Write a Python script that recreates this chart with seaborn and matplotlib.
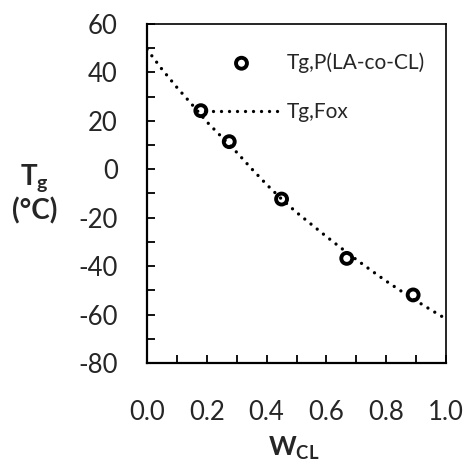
import numpy as np
import pandas as pd
import seaborn as sns
import matplotlib.pyplot as plt
from matplotlib.ticker import MultipleLocator

# measured Tg of P(LA-co-CL)
w_cl = [0.18, 0.275, 0.45, 0.668, 0.89]
tg_exp = [24.2, 11.4, -12.3, -36.8, -51.9]

# Fox prediction
fox_w = [0.00, 0.05, 0.10, 0.15, 0.20, 0.25, 0.30, 0.35, 0.40, 0.45, 0.50,
         0.55, 0.60, 0.65, 0.70, 0.75, 0.80, 0.85, 0.90, 0.95, 1.00]
fox_tg = [49.5, 41.3, 33.8, 26.8, 19.6, 13.3, 7.0, 0.2, -6.3, -12.3, -17.8,
          -22.8, -27.8, -32.6, -37.3, -41.8, -46.2, -50.3, -54.3, -58.1, -61.8]

y_ticks = [-80, -60, -40, -20, 0, 20, 40, 60]
x_ticks = [0.0, 0.2, 0.4, 0.6, 0.8, 1.0]

exp_df = pd.DataFrame({"w": w_cl, "tg": tg_exp})
fox_df = pd.DataFrame({"w": fox_w, "tg": fox_tg})

sns.set_style("ticks")
plt.rcParams['font.family'] = ['Lato', 'DejaVu Sans']
plt.rcParams['axes.unicode_minus'] = False
plt.rcParams['mathtext.fontset'] = 'custom'
plt.rcParams['mathtext.rm'] = 'Lato'
plt.rcParams['mathtext.bf'] = 'Lato:bold'
plt.rcParams['mathtext.it'] = 'Lato:italic'

fig = plt.figure(figsize=(4.67, 4.61), dpi=100)
ax = fig.add_axes([0.3148, 0.2126, 0.6403, 0.7354])

sns.scatterplot(data=exp_df, x="w", y="tg", ax=ax, marker="o", s=62,
                facecolors="none", edgecolors="black", linewidths=2.8,
                label="Tg,P(LA-co-CL)", zorder=3)
sns.lineplot(data=fox_df, x="w", y="tg", ax=ax, color="black", lw=2.4,
             linestyle=(0, (0.001, 2.4)), dash_capstyle="round",
             label="Tg,Fox", zorder=2)

ax.set_xlim(0, 1.0)
ax.set_ylim(-80, 60)
ax.set_xticks(x_ticks)
ax.set_xticklabels([f"{v:.1f}" for v in x_ticks])
ax.set_yticks(y_ticks)
ax.set_yticklabels([str(v) for v in y_ticks])
ax.xaxis.set_minor_locator(MultipleLocator(0.1))
ax.yaxis.set_minor_locator(MultipleLocator(10))
ax.tick_params(axis='both', which='both', direction='in', length=6, width=1.3,
               color='black', labelsize=18.5)
ax.tick_params(axis='x', which='major', pad=27)
ax.tick_params(axis='y', which='major', pad=21)
ax.tick_params(top=False, right=False, which='both')
for s in ax.spines.values():
    s.set_visible(True)
    s.set_color('black')
ax.spines['left'].set_linewidth(1.6)
ax.spines['bottom'].set_linewidth(1.6)
ax.spines['top'].set_linewidth(1.2)
ax.spines['right'].set_linewidth(1.2)

ax.set_xlabel(r"$\mathbf{W_{CL}}$", fontsize=19)
ax.xaxis.set_label_coords(0.49, -0.212)
ax.set_ylabel("$\\mathbf{T_g}$\n(°C)", fontsize=20, fontweight='bold',
              rotation=0, ha='center', va='center', linespacing=1.15)
ax.yaxis.set_label_coords(-0.375, 0.5)

ax.legend(loc='upper left', bbox_to_anchor=(0.194, 0.917), frameon=False,
          fontsize=15, handlelength=3.5, handletextpad=0.4, labelspacing=1.4,
          borderpad=0, borderaxespad=0)

fig.savefig("out.png", dpi=100)
